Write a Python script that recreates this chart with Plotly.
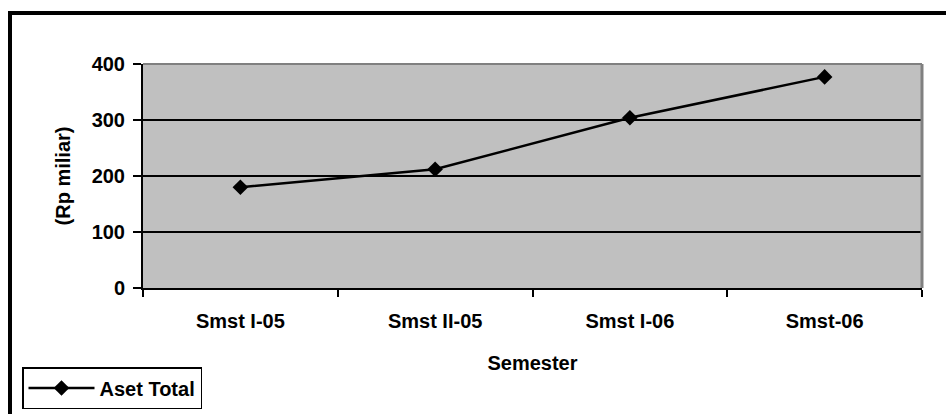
import plotly.graph_objects as go

# Total assets per semester (Rp billion)
semesters = ["Smst I-05", "Smst II-05", "Smst I-06", "Smst-06"]
aset_total = [180, 212, 304, 377]
y_ticks = [0, 100, 200, 300, 400]

W, H = 946, 414
L, R, T, B = 143, 24, 64, 126
PW, PH = W - L - R, H - T - B

FONT = "Liberation Sans, Arial, sans-serif"
FS = 20


def px_to_paper_x(px):
    return (px - L) / PW


def px_to_paper_y(py):
    return (H - B - py) / PH


fig = go.Figure()
fig.add_trace(go.Scatter(
    x=semesters,
    y=aset_total,
    mode="lines+markers",
    name="Aset Total",
    line=dict(color="black", width=2.5),
    marker=dict(symbol="diamond", size=12, color="black"),
))

fig.update_layout(
    width=W,
    height=H,
    margin=dict(l=L, r=R, t=T, b=B, pad=0, autoexpand=False),
    paper_bgcolor="white",
    plot_bgcolor="#C0C0C0",
    font=dict(family=FONT, size=FS, color="black"),
    showlegend=True,
    legend=dict(
        x=px_to_paper_x(22), y=px_to_paper_y(367),
        xanchor="left", yanchor="top",
        bordercolor="black", borderwidth=1.5,
        bgcolor="white",
        font=dict(family=FONT, size=FS, color="black", weight="bold"),
        itemwidth=66,
        tracegroupgap=0,
    ),
    xaxis=dict(
        type="category",
        range=[-0.5, 3.5],
        showline=True, linecolor="black", linewidth=2,
        ticks="outside", ticklen=7, tickwidth=2, tickcolor="black",
        tickson="boundaries",
        ticklabelstandoff=14,
        showgrid=False,
        tickfont=dict(family=FONT, size=FS, color="black", weight="bold"),
        title=dict(text="<b>Semester</b>", standoff=25,
                   font=dict(family=FONT, size=FS, color="black")),
        fixedrange=True,
    ),
    yaxis=dict(
        range=[0, 400],
        tickvals=y_ticks,
        showline=True, linecolor="black", linewidth=2,
        ticks="outside", ticklen=8, tickwidth=2, tickcolor="black",
        ticklabelstandoff=4,
        showgrid=True, gridcolor="black", gridwidth=2,
        zeroline=False,
        tickfont=dict(family=FONT, size=FS, color="black", weight="bold"),
        title=dict(text="<b>(Rp miliar)</b>", standoff=16,
                   font=dict(family=FONT, size=FS, color="black")),
        fixedrange=True,
    ),
    shapes=[
        # thin grey frame on the top and right of the plot area
        dict(type="line", xref="paper", yref="paper", x0=0, x1=1, y0=1, y1=1,
             line=dict(color="#808080", width=2), layer="above"),
        dict(type="line", xref="paper", yref="paper", x0=1, x1=1, y0=0, y1=1,
             line=dict(color="#808080", width=3), layer="above"),
        # heavy outer frame of the chart object (left and top edges)
        dict(type="line", xref="paper", yref="paper",
             x0=px_to_paper_x(10), x1=px_to_paper_x(10),
             y0=px_to_paper_y(13), y1=px_to_paper_y(420),
             line=dict(color="black", width=4)),
        dict(type="line", xref="paper", yref="paper",
             x0=px_to_paper_x(8), x1=px_to_paper_x(950),
             y0=px_to_paper_y(13), y1=px_to_paper_y(13),
             line=dict(color="black", width=4)),
    ],
)

fig.write_html("out.html")
